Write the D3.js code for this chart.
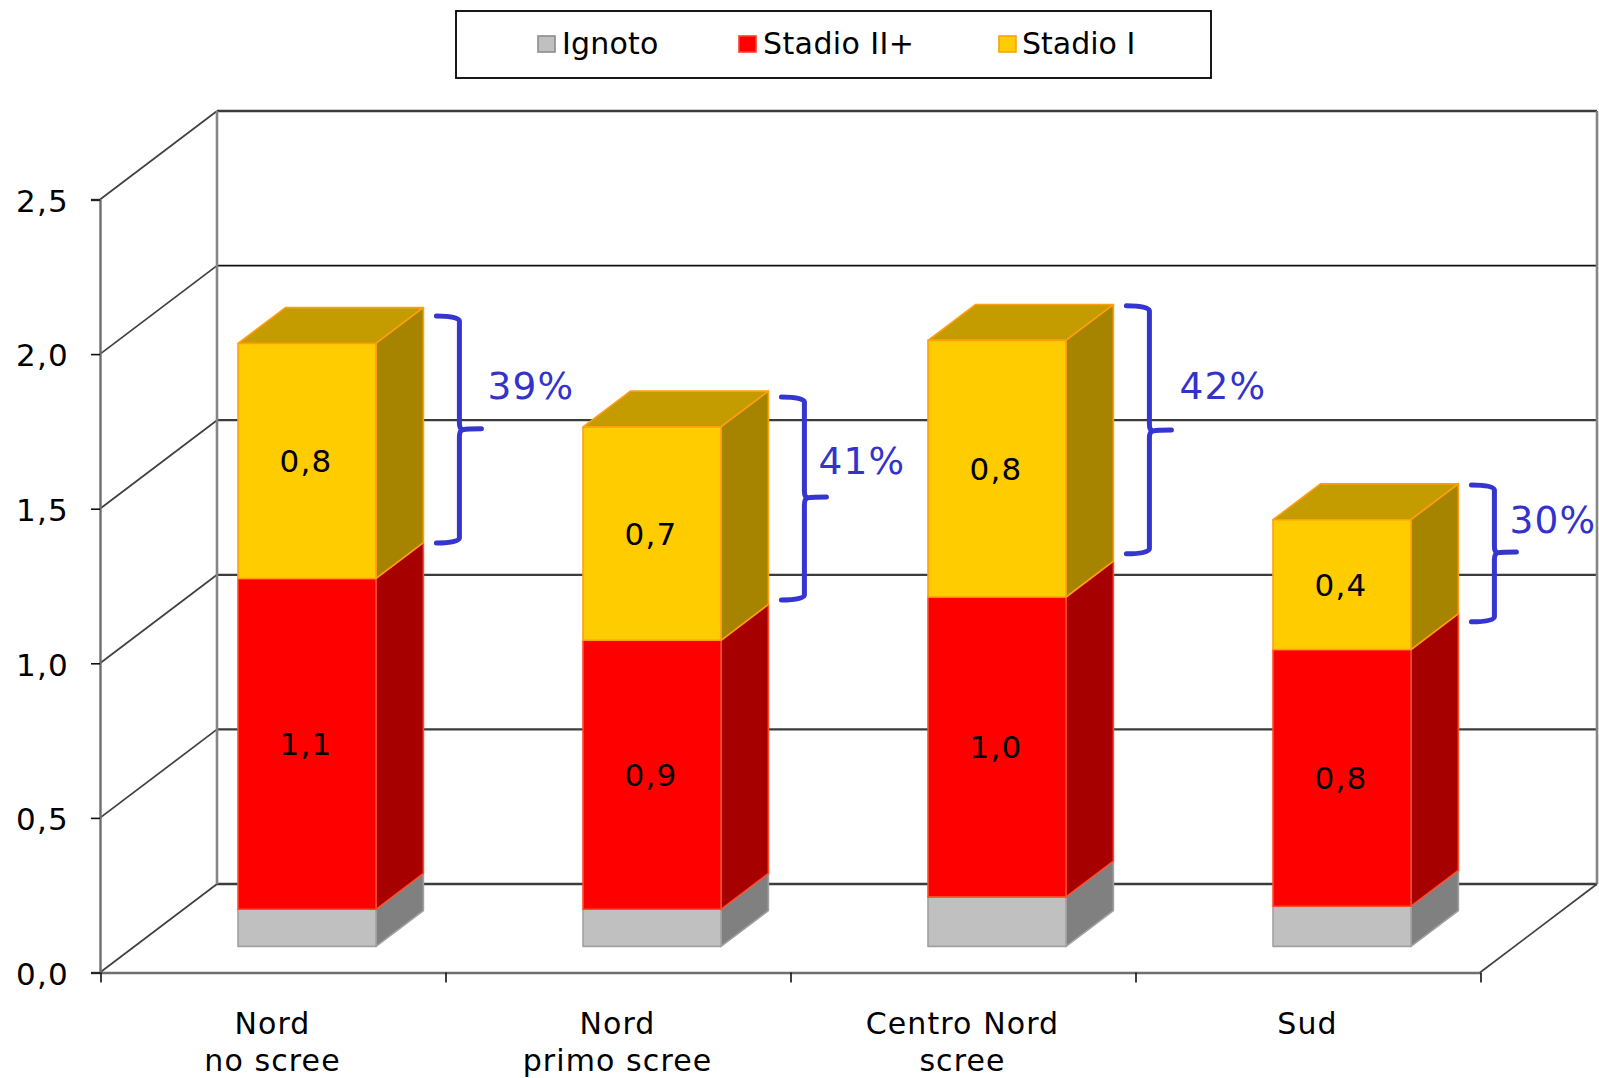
<!DOCTYPE html>
<html lang="it">
<head>
<meta charset="utf-8">
<title>Stadio alla diagnosi per area</title>
<script src="https://cdn.jsdelivr.net/npm/d3@7/dist/d3.min.js"></script>
<style>
  html, body { margin: 0; padding: 0; background: #fff; }
  svg { display: block; }
  text { font-family: "DejaVu Sans", Verdana, sans-serif; fill: #000; }
</style>
</head>
<body>
<script>
// Chart data
const categories = [["Nord", "no scree"], ["Nord", "primo scree"], ["Centro Nord", "scree"], ["Sud"]];
const ignoto   = [0.12, 0.12, 0.16, 0.13];
const stadioII = [1.07, 0.87, 0.97, 0.83];
const stadioI  = [0.76, 0.69, 0.83, 0.42];
const yTicks   = [0, 0.5, 1, 1.5, 2, 2.5];
const shareLabels = ["39%", "41%", "42%", "30%"];
// Extent of each curly brace in axis units: top, bottom, point
const braceTop    = [2.123, 1.861, 2.156, 1.577];
const braceBottom = [1.389, 1.205, 1.354, 1.134];
const bracePoint  = [1.755, 1.535, 1.751, 1.357];

const seriesNames = ["Ignoto", "Stadio II+", "Stadio I"];

// Layout
const W = 1599, H = 1078;
const axisLeft = 100, axisRight = 1480, axisBase = 972.5, axisTop = 199.5;
const depthX = 117, depthY = 88.5;          // oblique offset from front plane to back wall
const barNear = 0.295, barFar = 0.70;       // bar extent along the depth axis
const shareOffsets = [[64, 399], [50, 474], [66, 399], [51, 533]];

const skins = [
  { front: "#c0c0c0", top: "#a0a0a0", side: "#808080", edge: "#a0a0a0" },
  { front: "#ff0000", top: "#c00000", side: "#a60000", edge: "#ff4a2a" },
  { front: "#ffcc00", top: "#c49c00", side: "#a68400", edge: "#ff9f10" }
];
const legendItems = [
  { swatch: 538, text: 562, fill: "#c0c0c0", stroke: "#8c8c8c", spacing: 0.2 },
  { swatch: 739, text: 763, fill: "#ff0000", stroke: "#ff3b2a", spacing: 0.4 },
  { swatch: 999, text: 1022, fill: "#ffcc00", stroke: "#ff9f10", spacing: 0 }
];

const x = d3.scaleBand()
  .domain(d3.range(categories.length))
  .range([axisLeft, axisRight])
  .paddingInner(0.6)
  .paddingOuter(0.3);
const y = d3.scaleLinear().domain([0, 2.5]).range([axisBase, axisTop]);
const xEdges = d3.scaleLinear().domain([0, categories.length]).range([axisLeft, axisRight]);

const itFormat = d3.formatLocale({ decimal: ",", thousands: ".", grouping: [3], currency: ["", "€"] }).format(".1f");

// Oblique projection of a point (plane x, value, depth 0..1) to screen space
const proj = (px, v, t) => [px + t * depthX, y(v) - t * depthY];
const poly = pts => pts.map(p => p.join(",")).join(" ");

const svg = d3.select("body").append("svg").attr("width", W).attr("height", H).attr("viewBox", `0 0 ${W} ${H}`);

// Back wall, side wall and floor
const frame = svg.append("g").attr("fill", "none");
yTicks.forEach(v => {
  const a = proj(axisLeft, v, 0), b = proj(axisLeft, v, 1), c = proj(axisRight, v, 1);
  frame.append("line").attr("x1", a[0]).attr("y1", a[1]).attr("x2", b[0]).attr("y2", b[1])
    .attr("stroke", "#404040").attr("stroke-width", 1.7);
  frame.append("line").attr("x1", b[0]).attr("y1", b[1]).attr("x2", c[0]).attr("y2", c[1])
    .attr("stroke", v === 2 ? "#111" : "#3c3c3c").attr("stroke-width", v === 2 ? 1.6 : 2.3);
});
[axisLeft, axisRight].forEach(px => {
  const top = proj(px, 2.5, 1), base = proj(px, 0, 1);
  frame.append("line").attr("x1", top[0]).attr("y1", top[1]).attr("x2", base[0]).attr("y2", base[1])
    .attr("stroke", "#858585").attr("stroke-width", 2.6);
});
{
  const a = proj(axisRight, 0, 0), b = proj(axisRight, 0, 1);
  frame.append("line").attr("x1", a[0]).attr("y1", a[1]).attr("x2", b[0]).attr("y2", b[1])
    .attr("stroke", "#404040").attr("stroke-width", 1.7);
}

// Axes
const yAxis = svg.append("g")
  .attr("transform", `translate(${axisLeft},0)`)
  .call(d3.axisLeft(y).tickValues(yTicks).tickFormat(itFormat).tickSize(9).tickPadding(22));
yAxis.select(".domain").attr("stroke", "#6e6e6e").attr("stroke-width", 2.4);
yAxis.selectAll("line").attr("stroke", "#111").attr("stroke-width", 1.6);
yAxis.selectAll("text").attr("font-size", 31).attr("letter-spacing", 1.2).attr("dy", "0.38em");

const xAxis = svg.append("g")
  .attr("transform", `translate(0.5,${axisBase})`)
  .call(d3.axisBottom(xEdges).ticks(categories.length).tickFormat("").tickSize(10).tickSizeOuter(0));
xAxis.select(".domain").attr("stroke", "#6e6e6e").attr("stroke-width", 2.4);
xAxis.selectAll("line").attr("stroke", "#111").attr("stroke-width", 1.6);

// Category labels
const catLabels = svg.append("g").attr("font-size", 30).attr("letter-spacing", 1.1).attr("text-anchor", "middle");
categories.forEach((lines, i) => {
  const cx = x(i) + x.bandwidth() / 2;
  lines.forEach((line, j) => {
    catLabels.append("text").attr("x", cx).attr("y", 1034 + j * 36.5).text(line);
  });
});

// Stacked 3D bars, drawn bottom to top so each block covers the one beneath
const series = [ignoto, stadioII, stadioI];
const bars = svg.append("g");
categories.forEach((_, i) => {
  const left = x(i), right = left + x.bandwidth();
  let base = 0;
  series.forEach((vals, s) => {
    const v0 = base, v1 = base + vals[i];
    base = v1;
    const skin = skins[s];
    const g = bars.append("g").attr("stroke", skin.edge).attr("stroke-width", 1.6).attr("stroke-linejoin", "round");
    if (s === series.length - 1) {
      g.append("polygon").attr("fill", skin.top).attr("points", poly([
        proj(left, v1, barNear), proj(right, v1, barNear), proj(right, v1, barFar), proj(left, v1, barFar)
      ]));
    }
    g.append("polygon").attr("fill", skin.side).attr("points", poly([
      proj(right, v0, barNear), proj(right, v1, barNear), proj(right, v1, barFar), proj(right, v0, barFar)
    ]));
    g.append("polygon").attr("fill", skin.front).attr("points", poly([
      proj(left, v0, barNear), proj(right, v0, barNear), proj(right, v1, barNear), proj(left, v1, barNear)
    ]));
  });
});

// Value labels on the two main stages, centred on the front face
const valueLabels = svg.append("g").attr("font-size", 31).attr("letter-spacing", 1.2).attr("text-anchor", "middle");
categories.forEach((_, i) => {
  let base = ignoto[i];
  [stadioII, stadioI].forEach(vals => {
    const v = vals[i];
    const c = proj(x(i) + x.bandwidth() / 2, base + v / 2, barNear);
    valueLabels.append("text").attr("x", c[0] - 1).attr("y", c[1] + 11).text(itFormat(v));
    base += v;
  });
});

// Curly braces marking the Stadio I share, with the percentage beside each
const blue = "#3333cc";
const braces = svg.append("g");
categories.forEach((_, i) => {
  const edge = proj(x(i) + x.bandwidth(), 0, barFar)[0];
  const a = edge + 13, b = edge + 36, tip = edge + 58;
  const yT = y(braceTop[i]), yB = y(braceBottom[i]), yP = y(bracePoint[i]);
  const d = `M${a},${yT} Q${b - 1},${yT} ${b},${yT + 5} L${b},${yP - 7} Q${b},${yP - 1} ${b + 3},${yP}
             Q${b + 8},${yP - 1} ${tip},${yP - 1} M${b + 3},${yP} Q${b},${yP + 1} ${b},${yP + 7}
             L${b},${yB - 5} Q${b - 1},${yB} ${a},${yB}`;
  braces.append("path").attr("d", d).attr("fill", "none").attr("stroke", "#3535cf")
    .attr("stroke-width", 5).attr("stroke-linecap", "round");
  braces.append("text").attr("x", edge + shareOffsets[i][0]).attr("y", shareOffsets[i][1])
    .attr("font-size", 37.5).attr("letter-spacing", 1.2).style("fill", blue).text(shareLabels[i]);
});

// Legend
const legend = svg.append("g");
legend.append("rect").attr("x", 456).attr("y", 11).attr("width", 755).attr("height", 67)
  .attr("fill", "#fff").attr("stroke", "#000").attr("stroke-width", 1.8);
seriesNames.forEach((name, i) => {
  const it = legendItems[i];
  legend.append("rect").attr("x", it.swatch).attr("y", 36).attr("width", 17).attr("height", 16)
    .attr("fill", it.fill).attr("stroke", it.stroke).attr("stroke-width", 1.6);
  legend.append("text").attr("x", it.text).attr("y", 54).attr("font-size", 30)
    .attr("letter-spacing", it.spacing).text(name);
});
</script>
</body>
</html>
